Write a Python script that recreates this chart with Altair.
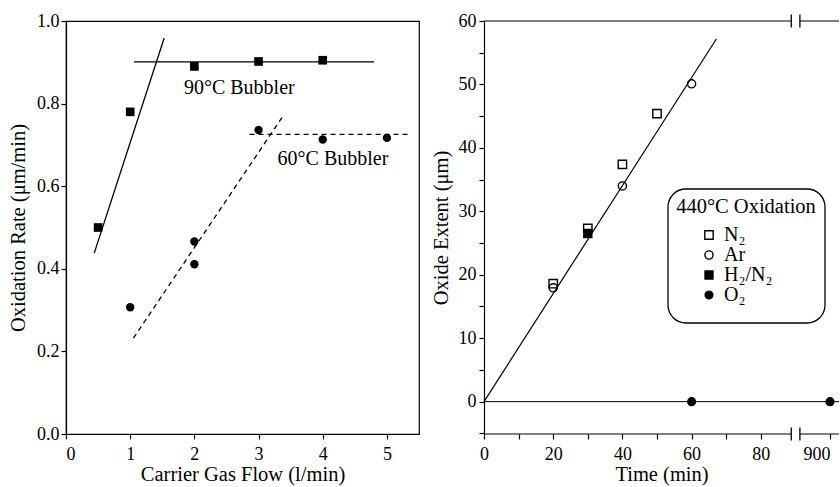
import altair as alt
import pandas as pd

FONT = "Liberation Serif"

# ---------------- Left panel data ----------------
flow_90 = [0.5, 1, 2, 3, 4]
rate_90 = [0.50, 0.78, 0.89, 0.902, 0.905]
flow_60 = [1, 2, 2, 3, 4, 5]
rate_60 = [0.307, 0.466, 0.411, 0.736, 0.713, 0.717]

# guide lines drawn on the figure (end points)
solid_x0 = [0.44, 1.06]
solid_x1 = [1.53, 4.80]
solid_y0 = [0.438, 0.901]
solid_y1 = [0.959, 0.901]
dash_x0 = [1.05, 2.86]
dash_x1 = [3.39, 5.36]
dash_y0 = [0.232, 0.7255]
dash_y1 = [0.772, 0.7255]

ann_text = ["90°C Bubbler", "60°C Bubbler"]
ann_x = [2.70, 4.16]
ann_y = [0.838, 0.667]

left_x_ticks = [0, 1, 2, 3, 4, 5]
left_y_ticks = [0.0, 0.2, 0.4, 0.6, 0.8, 1.0]

# ---------------- Right panel data ----------------
legend_title = "440°C Oxidation"
gas_names = ["N₂", "Ar", "H₂/N₂", "O₂"]
gas_shapes = ["square", "circle", "square", "circle"]
gas_fills = ["transparent", "transparent", "black", "black"]
gas_strokes = ["black", "black", "black", "black"]
gas_sizes = [70, 60, 70, 90]

n2_time = [20, 30, 40, 50]
n2_ext = [18.6, 27.3, 37.4, 45.4]
ar_time = [20, 40, 60]
ar_ext = [17.95, 34.0, 50.1]
h2n2_time = [30]
h2n2_ext = [26.5]
o2_time = [60, 900]
o2_ext = [0, 0]

fit_time = [0, 67.2]
fit_ext = [0, 57.2]

right_x_ticks = [0, 10, 20, 30, 40, 50, 60, 70, 80, 100]
right_y_ticks = [-5, 0, 5, 10, 15, 20, 25, 30, 35, 40, 45, 50, 55, 60]

X_MAX = 102.6
Y_MIN, Y_MAX = -5.1, 60
BREAK_LO, BREAK_HI = 88.8, 91.3

# ---------------- Left panel ----------------
xs_l = alt.Scale(domain=[0, 5.5], nice=False, zero=False)
ys_l = alt.Scale(domain=[0, 1], nice=False, zero=False)
ax_xl = alt.Axis(values=left_x_ticks, title="Carrier Gas Flow (l/min)", format="d",
                 labelPadding=6, titlePadding=1)
ax_yl = alt.Axis(values=left_y_ticks, title="Oxidation Rate (μm/min)", format=".1f",
                 labelPadding=2, titlePadding=8)

sq_df = pd.DataFrame({"x": flow_90, "y": rate_90})
ci_df = pd.DataFrame({"x": flow_60, "y": rate_60})
solid_df = pd.DataFrame({"x": solid_x0, "x2": solid_x1, "y": solid_y0, "y2": solid_y1})
dash_df = pd.DataFrame({"x": dash_x0, "x2": dash_x1, "y": dash_y0, "y2": dash_y1})
ann_df = pd.DataFrame({"x": ann_x, "y": ann_y, "t": ann_text})

X_l = alt.X("x:Q", scale=xs_l, axis=ax_xl)
Y_l = alt.Y("y:Q", scale=ys_l, axis=ax_yl)

l_solid = alt.Chart(solid_df).mark_rule(color="black", strokeWidth=1.3).encode(
    x=X_l, x2="x2:Q", y=Y_l, y2="y2:Q")
l_dash = alt.Chart(dash_df).mark_rule(color="black", strokeWidth=1.3, strokeDash=[5, 4]).encode(
    x=X_l, x2="x2:Q", y=Y_l, y2="y2:Q")
l_sq = alt.Chart(sq_df).mark_point(shape="square", filled=True, size=75, color="black", opacity=1).encode(
    x=X_l, y=Y_l)
l_ci = alt.Chart(ci_df).mark_circle(size=70, color="black", opacity=1).encode(x=X_l, y=Y_l)
l_txt = alt.Chart(ann_df).mark_text(font=FONT, fontSize=20, color="black").encode(
    x=X_l, y=Y_l, text="t:N")

left = alt.layer(l_solid, l_dash, l_sq, l_ci, l_txt).properties(
    width=353, height=413,
    view=alt.ViewBackground(stroke="black", strokeOpacity=1, strokeWidth=1.2),
)

# ---------------- Right panel ----------------
pts = pd.DataFrame({
    "time": n2_time + ar_time + h2n2_time + o2_time,
    "ext": n2_ext + ar_ext + h2n2_ext + o2_ext,
    "gas": [gas_names[0]] * len(n2_time) + [gas_names[1]] * len(ar_time)
           + [gas_names[2]] * len(h2n2_time) + [gas_names[3]] * len(o2_time),
})
fit_df = pd.DataFrame({"time": [fit_time[0]], "time2": [fit_time[1]],
                       "ext": [fit_ext[0]], "ext2": [fit_ext[1]]})
zero_df = pd.DataFrame({"time": [0], "time2": [X_MAX], "ext": [0]})
frame_df = pd.DataFrame({
    "time": [0, BREAK_HI, 0, BREAK_HI],
    "time2": [BREAK_LO, X_MAX, BREAK_LO, X_MAX],
    "ext": [Y_MAX, Y_MAX, Y_MIN, Y_MIN],
})
brk_df = pd.DataFrame({
    "time": [BREAK_LO, BREAK_HI, BREAK_LO, BREAK_HI],
    "ext": [Y_MAX - 1.03, Y_MAX - 1.03, Y_MIN - 1.03, Y_MIN - 1.03],
    "ext2": [Y_MAX + 1.03, Y_MAX + 1.03, Y_MIN + 1.03, Y_MIN + 1.03],
})

xs_r = alt.Scale(domain=[0, X_MAX], nice=False, zero=False)
ys_r = alt.Scale(domain=[Y_MIN, Y_MAX], nice=False, zero=False)
ax_xr = alt.Axis(values=right_x_ticks, title="Time (min)", domain=False,
                 labelExpr="datum.value == 100 ? '900' : (datum.value % 20 == 0 ? datum.label : '')",
                 labelAlign={"condition": {"test": "datum.value == 100", "value": "right"}, "value": "center"},
                 labelPadding=6, titlePadding=1)
ax_yr = alt.Axis(values=right_y_ticks, title="Oxide Extent (μm)",
                 labelExpr="datum.value % 10 == 0 ? datum.label : ''",
                 labelPadding=3, titlePadding=7)

X_r = alt.X("pos:Q", scale=xs_r, axis=ax_xr)
Y_r = alt.Y("ext:Q", scale=ys_r, axis=ax_yr)
to_pos = "datum.time >= 900 ? 100 : datum.time"

r_zero = alt.Chart(zero_df).mark_rule(color="black", strokeWidth=1).transform_calculate(
    pos=to_pos).encode(x=X_r, x2="time2:Q", y=Y_r)
r_frame = alt.Chart(frame_df).mark_rule(color="black", strokeWidth=1.2).transform_calculate(
    pos=to_pos).encode(x=X_r, x2="time2:Q", y=Y_r)
r_brk = alt.Chart(brk_df).mark_rule(color="black", strokeWidth=1.3).transform_calculate(
    pos=to_pos).encode(x=X_r, y=Y_r, y2="ext2:Q")
r_fit = alt.Chart(fit_df).mark_rule(color="black", strokeWidth=1.2).transform_calculate(
    pos=to_pos).encode(x=X_r, x2="time2:Q", y=Y_r, y2="ext2:Q")

# rounded legend frame and its title (legend entries come from the Vega legend)
leg_box = alt.Chart(pd.DataFrame({"k": [0]})).mark_rect(
    fill="white", stroke="black", strokeWidth=1.3, cornerRadius=18).encode(
    x=alt.value(184), x2=alt.value(341), y=alt.value(168), y2=alt.value(302))
leg_title = alt.Chart(pd.DataFrame({"t": [legend_title]})).mark_text(
    font=FONT, fontSize=20.5, color="black", align="center", baseline="middle").encode(
    x=alt.value(262), y=alt.value(186), text="t:N")

legend = alt.Legend(
    title=None, orient="none", legendX=633, legendY=204, direction="vertical",
    padding=0, labelFont=FONT, labelFontSize=20, labelColor="black",
    labelOffset=5, rowPadding=0, symbolStrokeWidth=1.4,
)
r_pts = alt.Chart(pts).mark_point(filled=False, strokeWidth=1.4, opacity=1).transform_calculate(
    pos=to_pos).encode(
    x=X_r, y=Y_r,
    shape=alt.Shape("gas:N", scale=alt.Scale(domain=gas_names, range=gas_shapes), legend=legend),
    fill=alt.Fill("gas:N", scale=alt.Scale(domain=gas_names, range=gas_fills), legend=legend),
    stroke=alt.Stroke("gas:N", scale=alt.Scale(domain=gas_names, range=gas_strokes), legend=legend),
    size=alt.Size("gas:N", scale=alt.Scale(domain=gas_names, range=gas_sizes), legend=legend),
)

right = alt.layer(r_zero, r_frame, r_brk, r_fit, leg_box, leg_title, r_pts).properties(
    width=355, height=413)

chart = alt.hconcat(left, right, spacing=65, bounds="flush").properties(
    padding={"left": 7, "top": 11, "right": 0, "bottom": 0}
).configure_view(strokeOpacity=0).configure_axis(
    labelFont=FONT, labelFontSize=18, labelColor="black",
    titleFont=FONT, titleFontSize=20.5, titleFontWeight="normal", titleColor="black",
    domainColor="black", domainWidth=1.2, tickColor="black", tickWidth=1.2, tickSize=5,
    grid=False, zindex=0,
)

chart.save("out.html", embed_options={"renderer": "svg", "actions": False})
